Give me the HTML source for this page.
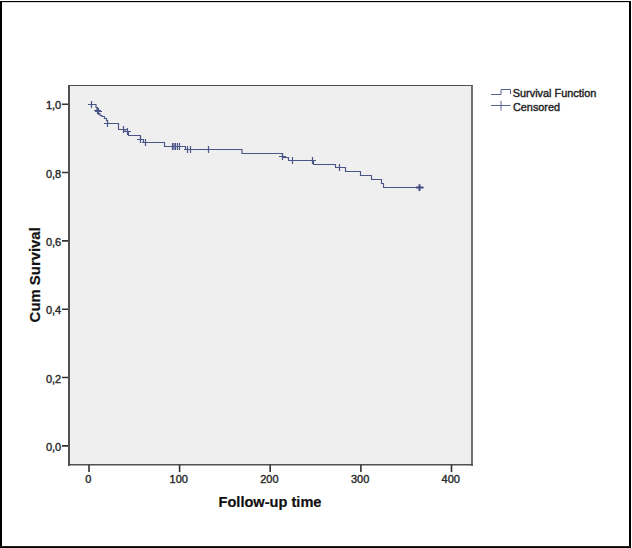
<!DOCTYPE html>
<html><head><meta charset="utf-8"><style>
html,body{margin:0;padding:0;background:#fff;}
svg{display:block;}
text{font-family:"Liberation Sans",sans-serif;}
</style></head><body>
<svg width="632" height="548" viewBox="0 0 632 548">
<rect x="0" y="0" width="632" height="548" fill="#fff"/>
<rect x="69" y="85" width="403" height="379" fill="#efefef"/>
<g fill="none" stroke="#505050">
<path d="M69,85.5 H472.5" stroke-width="1"/>
<path d="M69,85 V466" stroke-width="2"/>
<path d="M472,85 V466" stroke-width="1.6"/>
<path d="M68,464.8 H473" stroke-width="1.6"/>
<path d="M62,104.2h6M62,172.54000000000002h6M62,240.88h6M62,309.22h6M62,377.56h6M62,445.90000000000003h6M89,465v7M179.6,465v7M270.2,465v7M360.9,465v7M451.5,465v7" stroke="#333" stroke-width="1.6"/>
</g>
<g fill="#2a2a2a" stroke="#2a2a2a" stroke-width="0.4"><text x="61.2" y="109.2" text-anchor="end" font-size="11">1,0</text><text x="61.2" y="177.54" text-anchor="end" font-size="11">0,8</text><text x="61.2" y="245.88" text-anchor="end" font-size="11">0,6</text><text x="61.2" y="314.22" text-anchor="end" font-size="11">0,4</text><text x="61.2" y="382.56" text-anchor="end" font-size="11">0,2</text><text x="61.2" y="450.9" text-anchor="end" font-size="11">0,0</text><text x="88.2" y="482.5" text-anchor="middle" font-size="11">0</text><text x="178.8" y="482.5" text-anchor="middle" font-size="11">100</text><text x="269.4" y="482.5" text-anchor="middle" font-size="11">200</text><text x="360.1" y="482.5" text-anchor="middle" font-size="11">300</text><text x="450.7" y="482.5" text-anchor="middle" font-size="11">400</text></g>
<g fill="#111" stroke="#111" stroke-width="0.2"><text x="270" y="507.3" text-anchor="middle" font-size="14.6" font-weight="bold">Follow-up time</text><text transform="translate(39.6,274.8) rotate(-90)" x="0" y="0" text-anchor="middle" font-size="14.9" font-weight="bold">Cum Survival</text></g>
<g fill="none" stroke="#4a5588" stroke-width="1.15">
<path d="M88.5,104.5 L96,104.5 L96,107.5 L97,107.5 L97,110.5 L98,110.5 L98,113.5 L100,113.5 L100,115.5 L102,115.5 L102,116.5 L104.5,116.5 L104.5,118.5 L106.5,118.5 L106.5,120.5 L107.5,120.5 L107.5,123.5 L118.5,123.5 L118.5,129.5 L125,129.5 L125,131.5 L128.5,131.5 L128.5,135.5 L140.5,135.5 L140.5,139.5 L143.5,139.5 L143.5,142.5 L164.5,142.5 L164.5,146.5 L185.5,146.5 L185.5,149.5 L242,149.5 L242,153.5 L282.5,153.5 L282.5,157.5 L288.5,157.5 L288.5,160.5 L313.5,160.5 L313.5,164.5 L335.5,164.5 L335.5,167.5 L345.5,167.5 L345.5,171.5 L360.5,171.5 L360.5,175.5 L371.5,175.5 L371.5,179.5 L381.5,179.5 L381.5,183.5 L383.5,183.5 L383.5,187.5 L420,187.5"/>
<path d="M88.0,104.5h7M91.5,101.0v7M94.0,110.5h7M97.5,107.0v7M95.0,111.5h7M98.5,108.0v7M104.0,123.5h7M107.5,120.0v7M120.0,129.5h7M123.5,126.0v7M124.0,131.5h7M127.5,128.0v7M137.0,139.5h7M140.5,136.0v7M142.0,142.5h7M145.5,139.0v7M169.0,146.5h7M172.5,143.0v7M170.5,146.5h7M174,143.0v7M172.0,146.5h7M175.5,143.0v7M174.0,146.5h7M177.5,143.0v7M176.0,146.5h7M179.5,143.0v7M184.0,149.5h7M187.5,146.0v7M187.0,149.5h7M190.5,146.0v7M205.0,149.5h7M208.5,146.0v7M279.0,156.5h7M282.5,153.0v7M289.0,160.5h7M292.5,157.0v7M309.0,160.5h7M312.5,157.0v7M336.0,167.5h7M339.5,164.0v7" stroke-width="1.2"/>
<path d="M416,187.5h7.5M419.5,184.2v6.8" stroke-width="1.9" stroke="#3f4a80"/>
</g>
<g fill="none" stroke="#56628f" stroke-width="1">
<path d="M491,94.5 H501 V89.5 H510.5 V94"/>
<path d="M491,105.5 H510.5 M501,101 V110.5" />
</g>
<g fill="#222" stroke="#222" stroke-width="0.4"><text x="512.8" y="96.8" text-anchor="start" font-size="10.9">Survival Function</text><text x="513" y="110.7" text-anchor="start" font-size="10.85">Censored</text></g>
<g fill="#000">
<rect x="0" y="1" width="631" height="1"/><rect x="2" y="2" width="627" height="1" fill="#d8d8d8"/>
<rect x="0" y="1" width="2" height="547"/>
<rect x="629" y="1" width="2" height="547"/>
<rect x="0" y="547" width="631" height="1"/>
<rect x="0" y="546" width="631" height="1" fill="#222"/>
</g>
</svg>
</body></html>
